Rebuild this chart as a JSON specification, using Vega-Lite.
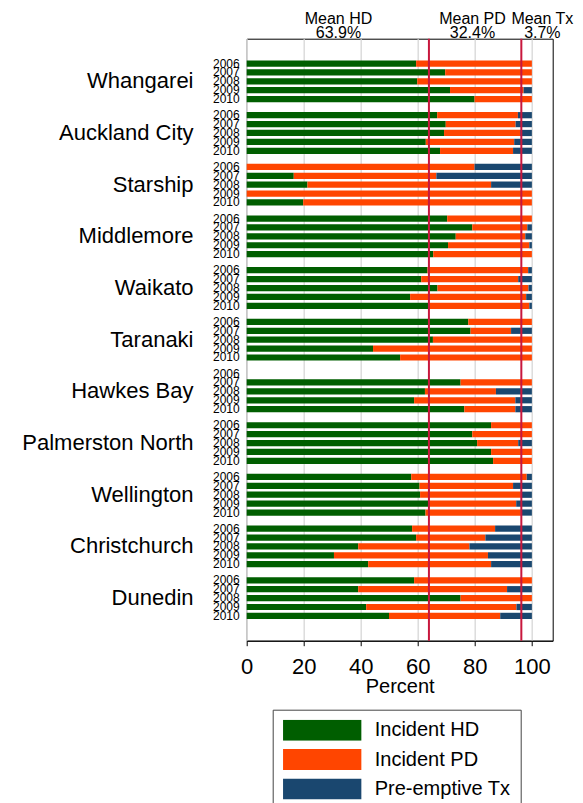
{
  "$schema": "https://vega.github.io/schema/vega-lite/v6.json",
  "width": 306,
  "height": 602,
  "autosize": {"type": "none"},
  "padding": {"left": 246.7, "top": 38.7, "right": 30.3, "bottom": 162.3},
  "config": {
    "font": "Liberation Sans",
    "view": {"stroke": "#000000", "strokeWidth": 1},
    "axis": {"labelColor": "#000000", "titleColor": "#000000", "labelFont": "Liberation Sans", "titleFont": "Liberation Sans", "titleFontWeight": "normal"},
    "legend": {"labelFont": "Liberation Sans"}
  },
  "datasets": {
    "shares": [
      {"dhb": "Whangarei", "year": "2006", "Incident HD": 59.4, "Incident PD": 40.6, "Pre-emptive Tx": 0},
      {"dhb": "Whangarei", "year": "2007", "Incident HD": 69.6, "Incident PD": 30.4, "Pre-emptive Tx": 0},
      {"dhb": "Whangarei", "year": "2008", "Incident HD": 59.8, "Incident PD": 40.2, "Pre-emptive Tx": 0},
      {"dhb": "Whangarei", "year": "2009", "Incident HD": 71.3, "Incident PD": 25.8, "Pre-emptive Tx": 2.9},
      {"dhb": "Whangarei", "year": "2010", "Incident HD": 79.9, "Incident PD": 20.1, "Pre-emptive Tx": 0},
      {"dhb": "Auckland City", "year": "2006", "Incident HD": 66.8, "Incident PD": 28.3, "Pre-emptive Tx": 4.9},
      {"dhb": "Auckland City", "year": "2007", "Incident HD": 69.8, "Incident PD": 24.5, "Pre-emptive Tx": 5.7},
      {"dhb": "Auckland City", "year": "2008", "Incident HD": 69.2, "Incident PD": 26.7, "Pre-emptive Tx": 4.1},
      {"dhb": "Auckland City", "year": "2009", "Incident HD": 62.8, "Incident PD": 31.0, "Pre-emptive Tx": 6.2},
      {"dhb": "Auckland City", "year": "2010", "Incident HD": 67.8, "Incident PD": 25.6, "Pre-emptive Tx": 6.6},
      {"dhb": "Starship", "year": "2006", "Incident HD": 0, "Incident PD": 79.9, "Pre-emptive Tx": 20.1},
      {"dhb": "Starship", "year": "2007", "Incident HD": 16.5, "Incident PD": 50.0, "Pre-emptive Tx": 33.5},
      {"dhb": "Starship", "year": "2008", "Incident HD": 21.3, "Incident PD": 64.4, "Pre-emptive Tx": 14.3},
      {"dhb": "Starship", "year": "2009", "Incident HD": 0, "Incident PD": 100, "Pre-emptive Tx": 0},
      {"dhb": "Starship", "year": "2010", "Incident HD": 19.8, "Incident PD": 80.2, "Pre-emptive Tx": 0},
      {"dhb": "Middlemore", "year": "2006", "Incident HD": 70.3, "Incident PD": 29.7, "Pre-emptive Tx": 0},
      {"dhb": "Middlemore", "year": "2007", "Incident HD": 79.1, "Incident PD": 19.3, "Pre-emptive Tx": 1.6},
      {"dhb": "Middlemore", "year": "2008", "Incident HD": 73.3, "Incident PD": 24.4, "Pre-emptive Tx": 2.3},
      {"dhb": "Middlemore", "year": "2009", "Incident HD": 70.6, "Incident PD": 28.5, "Pre-emptive Tx": 0.9},
      {"dhb": "Middlemore", "year": "2010", "Incident HD": 65.4, "Incident PD": 34.6, "Pre-emptive Tx": 0},
      {"dhb": "Waikato", "year": "2006", "Incident HD": 63.4, "Incident PD": 35.3, "Pre-emptive Tx": 1.3},
      {"dhb": "Waikato", "year": "2007", "Incident HD": 61.2, "Incident PD": 34.0, "Pre-emptive Tx": 4.8},
      {"dhb": "Waikato", "year": "2008", "Incident HD": 66.9, "Incident PD": 31.9, "Pre-emptive Tx": 1.2},
      {"dhb": "Waikato", "year": "2009", "Incident HD": 57.3, "Incident PD": 40.7, "Pre-emptive Tx": 2.0},
      {"dhb": "Waikato", "year": "2010", "Incident HD": 63.9, "Incident PD": 35.2, "Pre-emptive Tx": 0.9},
      {"dhb": "Taranaki", "year": "2006", "Incident HD": 77.7, "Incident PD": 22.3, "Pre-emptive Tx": 0},
      {"dhb": "Taranaki", "year": "2007", "Incident HD": 78.5, "Incident PD": 14.2, "Pre-emptive Tx": 7.3},
      {"dhb": "Taranaki", "year": "2008", "Incident HD": 65.3, "Incident PD": 34.7, "Pre-emptive Tx": 0},
      {"dhb": "Taranaki", "year": "2009", "Incident HD": 44.3, "Incident PD": 55.7, "Pre-emptive Tx": 0},
      {"dhb": "Taranaki", "year": "2010", "Incident HD": 53.8, "Incident PD": 46.2, "Pre-emptive Tx": 0},
      {"dhb": "Hawkes Bay", "year": "2006", "Incident HD": null, "Incident PD": null, "Pre-emptive Tx": null},
      {"dhb": "Hawkes Bay", "year": "2007", "Incident HD": 75.0, "Incident PD": 25.0, "Pre-emptive Tx": 0},
      {"dhb": "Hawkes Bay", "year": "2008", "Incident HD": 62.5, "Incident PD": 24.9, "Pre-emptive Tx": 12.6},
      {"dhb": "Hawkes Bay", "year": "2009", "Incident HD": 58.7, "Incident PD": 35.5, "Pre-emptive Tx": 5.8},
      {"dhb": "Hawkes Bay", "year": "2010", "Incident HD": 76.3, "Incident PD": 17.9, "Pre-emptive Tx": 5.8},
      {"dhb": "Palmerston North", "year": "2006", "Incident HD": 85.7, "Incident PD": 14.3, "Pre-emptive Tx": 0},
      {"dhb": "Palmerston North", "year": "2007", "Incident HD": 79.1, "Incident PD": 20.9, "Pre-emptive Tx": 0},
      {"dhb": "Palmerston North", "year": "2008", "Incident HD": 80.8, "Incident PD": 14.4, "Pre-emptive Tx": 4.8},
      {"dhb": "Palmerston North", "year": "2009", "Incident HD": 85.7, "Incident PD": 14.3, "Pre-emptive Tx": 0},
      {"dhb": "Palmerston North", "year": "2010", "Incident HD": 86.4, "Incident PD": 13.6, "Pre-emptive Tx": 0},
      {"dhb": "Wellington", "year": "2006", "Incident HD": 57.7, "Incident PD": 40.5, "Pre-emptive Tx": 1.8},
      {"dhb": "Wellington", "year": "2007", "Incident HD": 60.6, "Incident PD": 32.8, "Pre-emptive Tx": 6.6},
      {"dhb": "Wellington", "year": "2008", "Incident HD": 60.8, "Incident PD": 35.3, "Pre-emptive Tx": 3.9},
      {"dhb": "Wellington", "year": "2009", "Incident HD": 63.7, "Incident PD": 30.8, "Pre-emptive Tx": 5.5},
      {"dhb": "Wellington", "year": "2010", "Incident HD": 62.7, "Incident PD": 33.4, "Pre-emptive Tx": 3.9},
      {"dhb": "Christchurch", "year": "2006", "Incident HD": 58.0, "Incident PD": 29.1, "Pre-emptive Tx": 12.9},
      {"dhb": "Christchurch", "year": "2007", "Incident HD": 59.4, "Incident PD": 24.3, "Pre-emptive Tx": 16.3},
      {"dhb": "Christchurch", "year": "2008", "Incident HD": 39.1, "Incident PD": 39.0, "Pre-emptive Tx": 21.9},
      {"dhb": "Christchurch", "year": "2009", "Incident HD": 30.6, "Incident PD": 54.0, "Pre-emptive Tx": 15.4},
      {"dhb": "Christchurch", "year": "2010", "Incident HD": 42.6, "Incident PD": 43.1, "Pre-emptive Tx": 14.3},
      {"dhb": "Dunedin", "year": "2006", "Incident HD": 58.7, "Incident PD": 41.3, "Pre-emptive Tx": 0},
      {"dhb": "Dunedin", "year": "2007", "Incident HD": 39.1, "Incident PD": 52.2, "Pre-emptive Tx": 8.7},
      {"dhb": "Dunedin", "year": "2008", "Incident HD": 75.0, "Incident PD": 25.0, "Pre-emptive Tx": 0},
      {"dhb": "Dunedin", "year": "2009", "Incident HD": 41.9, "Incident PD": 52.7, "Pre-emptive Tx": 5.4},
      {"dhb": "Dunedin", "year": "2010", "Incident HD": 49.9, "Incident PD": 39.0, "Pre-emptive Tx": 11.1}
    ],
    "means": [
      {"measure": "Mean HD", "mean": 63.9, "cumulative": 63.9},
      {"measure": "Mean PD", "mean": 32.4, "cumulative": 96.3}
    ]
  },
  "resolve": {"axis": {"x": "independent"}},
  "layer": [
    {
      "data": {"name": "shares"},
      "transform": [
        {"fold": ["Incident HD", "Incident PD", "Pre-emptive Tx"], "as": ["type", "pct"]}
      ],
      "mark": {"type": "bar", "strokeWidth": 0},
      "encoding": {
        "y": {
          "field": "dhb", "type": "nominal",
          "sort": ["Whangarei", "Auckland City", "Starship", "Middlemore", "Waikato", "Taranaki", "Hawkes Bay", "Palmerston North", "Wellington", "Christchurch", "Dunedin"],
          "scale": {"paddingInner": 0.139, "paddingOuter": 0.394},
          "axis": {"title": null, "ticks": false, "tickSize": 0, "domain": false, "labelFontSize": 22, "labelPadding": 53.7, "labelLimit": 300}
        },
        "yOffset": {"field": "year", "type": "ordinal", "scale": {"paddingInner": 0.3, "paddingOuter": 0.15}},
        "x": {
          "field": "pct", "type": "quantitative", "stack": "zero",
          "scale": {"domain": [0, 107.3], "nice": false, "zero": true},
          "axis": {"orient": "bottom", "title": "Percent", "values": [0, 20, 40, 60, 80, 100], "grid": true, "gridColor": "#dcdcdc", "gridWidth": 1.5, "domainColor": "#000000", "tickColor": "#000000", "tickSize": 5, "labelFontSize": 22, "labelPadding": 11, "titleFontSize": 20, "titlePadding": -1, "labelFlush": false}
        },
        "color": {
          "field": "type", "type": "nominal",
          "scale": {"domain": ["Incident HD", "Incident PD", "Pre-emptive Tx"], "range": ["#005e00", "#ff4500", "#1a476f"]},
          "legend": {
            "title": null, "orient": "none", "legendX": 26, "legendY": 671, "direction": "vertical",
            "strokeColor": "#444444", "fillColor": "#ffffff", "padding": 10,
            "symbolType": "M-1,-0.268H1V0.268H-1Z", "symbolSize": 6131, "symbolStrokeWidth": 0, "symbolOpacity": 1,
            "clipHeight": 21, "rowPadding": 8.4, "labelFontSize": 20, "labelOffset": 13, "labelColor": "#000000", "labelLimit": 300
          }
        }
      }
    },
    {
      "data": {"name": "means"},
      "mark": {"type": "rule", "color": "#c8173d", "strokeWidth": 2},
      "encoding": {
        "x": {
          "field": "cumulative", "type": "quantitative",
          "axis": {"orient": "top", "title": null, "values": [32, 79, 103.5], "grid": false, "ticks": false, "tickSize": 0, "domain": false, "labelFlush": false, "labelOverlap": false, "labelFontSize": 16, "labelLineHeight": 14.5, "labelBaseline": "bottom", "labelPadding": 12.5,
            "labelExpr": "datum.value < 50 ? ['Mean HD', '63.9%'] : datum.value < 90 ? ['Mean PD', '32.4%'] : ['Mean Tx', '3.7%']"}
        }
      }
    },
    {
      "data": {"name": "shares"},
      "mark": {"type": "text", "align": "right", "baseline": "middle", "fontSize": 12, "dx": -7, "color": "#000000"},
      "encoding": {
        "y": {"field": "dhb", "type": "nominal", "sort": ["Whangarei", "Auckland City", "Starship", "Middlemore", "Waikato", "Taranaki", "Hawkes Bay", "Palmerston North", "Wellington", "Christchurch", "Dunedin"]},
        "yOffset": {"field": "year", "type": "ordinal"},
        "x": {"datum": 0, "type": "quantitative", "axis": null},
        "text": {"field": "year"}
      }
    }
  ]
}
